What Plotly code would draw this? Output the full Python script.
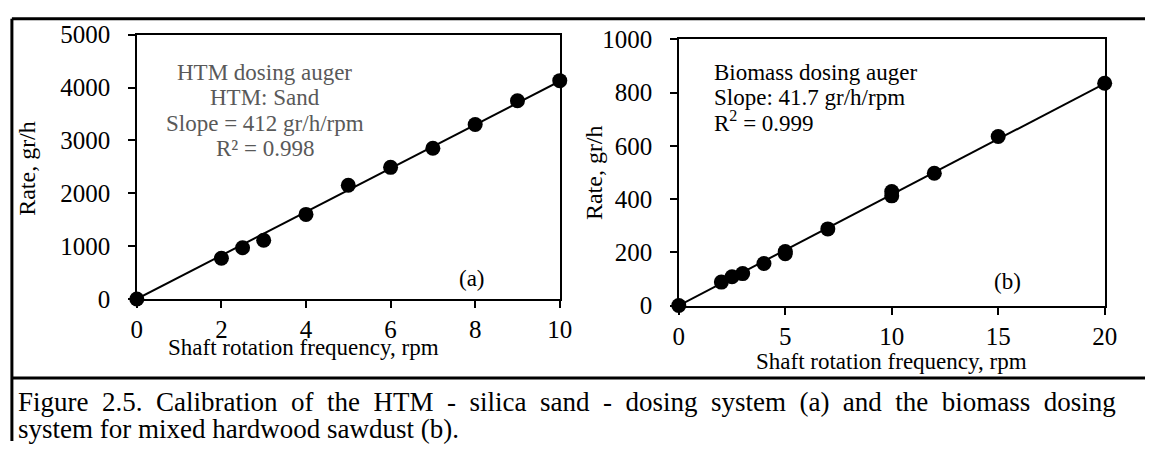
import plotly.graph_objects as go

W, H = 1158, 455

# Calibration data: HTM (silica sand) dosing auger
htm_rpm = [0, 2, 2.5, 3, 4, 5, 6, 7, 8, 9, 10]
htm_rate = [0, 770, 970, 1110, 1600, 2150, 2490, 2850, 3300, 3750, 4130]
htm_slope = 412

# Calibration data: biomass (mixed hardwood sawdust) dosing auger
bio_rpm = [0, 2, 2.5, 3, 4, 5, 5, 7, 10, 10, 12, 15, 20]
bio_rate = [0, 88, 108, 120, 158, 195, 203, 288, 412, 428, 497, 635, 835]
bio_slope = 41.7

x_title = "Shaft rotation frequency, rpm"
y_title = "Rate, gr/h"
caption_1 = "Figure 2.5. Calibration of the HTM - silica sand - dosing system (a) and the biomass dosing"
caption_2 = "system for mixed hardwood sawdust (b)."

FONT = "Liberation Serif, Times New Roman, serif"
FS = 23
TICK_FS = 25
CAP_FS = 27


def px(x):
    return x / W


def py(y):
    return 1 - y / H


fig = go.Figure()

panels = [
    (htm_rpm, htm_rate, htm_slope, "x", "y", 10),
    (bio_rpm, bio_rate, bio_slope, "x2", "y2", 20),
]
for rpm, rate, slope, xa, ya, xmax in panels:
    fig.add_trace(go.Scatter(
        x=[0, xmax], y=[0, slope * xmax], mode="lines",
        line=dict(color="black", width=2), xaxis=xa, yaxis=ya,
        showlegend=False, hoverinfo="skip", cliponaxis=False,
    ))
    fig.add_trace(go.Scatter(
        x=rpm, y=rate, mode="markers",
        marker=dict(color="black", size=15, line=dict(width=0)),
        xaxis=xa, yaxis=ya, showlegend=False, cliponaxis=False,
    ))

axis_common = dict(
    showline=True, mirror=True, linecolor="black", linewidth=2,
    ticks="outside", ticklen=7, tickwidth=2, tickcolor="black",
    showgrid=False, zeroline=False, fixedrange=True,
    tickfont=dict(family=FONT, size=TICK_FS, color="black"),
)
y_extra = dict(ticksuffix="\u00a0\u00a0")

fig.update_layout(
    width=W, height=H,
    margin=dict(l=0, r=0, t=0, b=0),
    paper_bgcolor="white", plot_bgcolor="white",
    font=dict(family=FONT, size=FS, color="black"),
    xaxis=dict(domain=[px(133), px(563)], range=[0, 10], dtick=2,
               anchor="y", **axis_common),
    yaxis=dict(domain=[py(304), py(23)], range=[0, 5000], dtick=1000,
               anchor="x", **axis_common, **y_extra),
    xaxis2=dict(domain=[px(684), px(1117)], range=[0, 20], dtick=5,
                anchor="y2", **axis_common),
    yaxis2=dict(domain=[py(311), py(28)], range=[0, 1000], dtick=200,
                anchor="x2", **axis_common, **y_extra),
)

# Frame around the figure and the rule above the caption
frame = dict(color="black", width=3)
for x0, y0, x1, y1 in [
    (6, 6, W, 6),
    (6, 6, 6, H),
    (6, 388, W, 388),
]:
    fig.add_shape(type="line", xref="paper", yref="paper",
                  x0=px(x0), y0=py(y0), x1=px(x1), y1=py(y1), line=frame)


def text(x, y, s, xanchor="center", color="black", angle=0, size=FS):
    fig.add_annotation(
        x=px(x), y=py(y), xref="paper", yref="paper", text=s,
        showarrow=False, xanchor=xanchor, yanchor="middle", textangle=angle,
        font=dict(family=FONT, size=size, color=color),
    )


# Axis titles
text(302, 356, x_title)
text(900, 371, x_title)
text(22, 165, y_title, angle=-90, size=24)
text(598, 170, y_title, angle=-90, size=24)

# Panel (a) notes
grey = "#595959"
for yy, s in zip([63, 90, 117, 144],
                 ["HTM dosing auger", "HTM: Sand",
                  f"Slope = {htm_slope} gr/h/rpm", "R² = 0.998"]):
    text(263, yy, s, color=grey)
text(474, 282, "(a)")

# Panel (b) notes
for yy, s in zip([63, 90, 115],
                 ["Biomass dosing auger", f"Slope: {bio_slope} gr/h/rpm",
                  "R<sup>2</sup> = 0.999"]):
    text(718, yy, s, xanchor="left")
text(1018, 285, "(b)")

# Caption (first line spread out to the full width)
text(10, 414, caption_1.replace(" ", "\u00a0 "), xanchor="left", size=CAP_FS)
text(10, 442, caption_2, xanchor="left", size=CAP_FS)

fig.write_html("out.html")
